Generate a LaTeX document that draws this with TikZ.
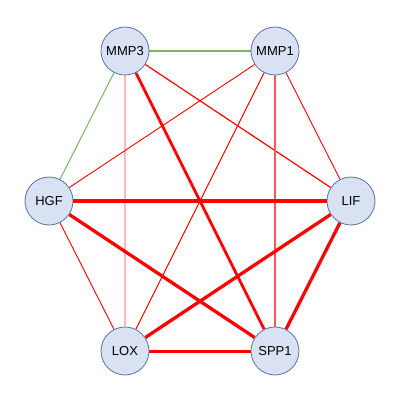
\documentclass[tikz,border=0pt]{standalone}
\usepackage{fontspec}
\setmainfont{Liberation Sans}
\usetikzlibrary{backgrounds}
\definecolor{nodefill}{HTML}{D9E2F3}
\definecolor{nodeline}{HTML}{5A72A8}
\definecolor{gedge}{HTML}{7AB55C}
\definecolor{redge}{HTML}{FF0000}
\definecolor{pinkedge}{HTML}{FFB8B8}
\definecolor{midred}{HTML}{FF5555}
\begin{document}
\begin{tikzpicture}[x=1pt,y=-1pt,
  gene/.style={circle,draw=nodeline,fill=nodefill,line width=0.8pt,minimum size=48pt,inner sep=0pt,font=\fontsize{13}{15}\selectfont},
  green/.style={draw=gedge,line width=1pt},
  thin/.style={draw=redge,line width=0.9pt},
  med/.style={draw=redge,line width=1.2pt},
  thick/.style={draw=redge,line width=3.3pt},
  pink/.style={draw=pinkedge,line width=1.3pt},
  mid/.style={draw=midred,line width=2pt}]
\useasboundingbox (0,0) rectangle (400,400);
% nodes
\node[gene] (MMP3) at (125,51) {MMP3};
\node[gene] (MMP1) at (275,51) {MMP1};
\node[gene] (HGF) at (49,201) {HGF};
\node[gene] (LIF) at (351,201) {LIF};
\node[gene] (LOX) at (125,351) {LOX};
\node[gene] (SPP1) at (275,351) {SPP1};
% edges
\begin{scope}[on background layer]
\draw[green,line width=1.3pt] (MMP3) -- (MMP1);
\draw[green] (MMP3) -- (HGF);
\draw[med] (MMP3) -- (LIF);
\draw[thick,line width=2.9pt] (MMP3) -- (SPP1);
\draw[pink] (MMP3) -- (LOX);
\draw[thin] (MMP1) -- (HGF);
\draw[thin] (MMP1) -- (LOX);
\draw[mid] (MMP1) -- (SPP1);
\draw[thin] (MMP1) -- (LIF);
\draw[thick] (HGF) -- (LIF);
\draw[thick] (HGF) -- (SPP1);
\draw[thin] (HGF) -- (LOX);
\draw[thick] (LIF) -- (LOX);
\draw[thick] (LIF) -- (SPP1);
\draw[thick,line width=3pt] (LOX) -- (SPP1);
\end{scope}
\end{tikzpicture}
\end{document}
